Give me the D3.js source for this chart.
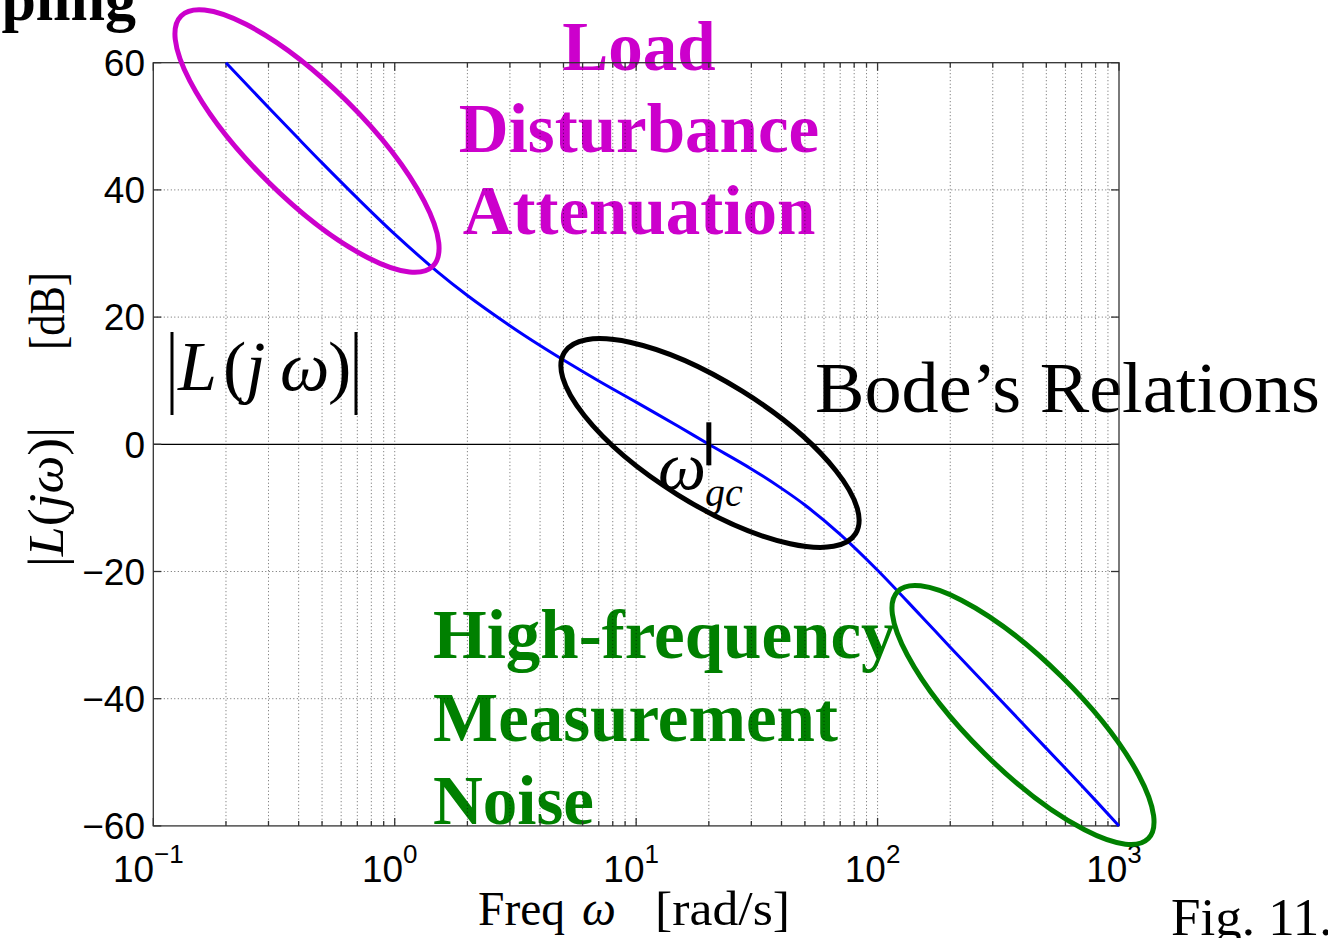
<!DOCTYPE html>
<html>
<head>
<meta charset="utf-8">
<script src="https://cdn.jsdelivr.net/npm/d3@7"></script>
<style>
  html, body { margin: 0; padding: 0; background: #fff; }
  svg { display: block; }
</style>
</head>
<body>
<svg id="chart" width="1328" height="938"></svg>
<script>
// Open-loop gain |L(jω)| in dB, sampled along the frequency axis (rad/s)
const freq  = [0.2, 0.3, 0.4, 0.5, 0.7, 1, 1.5, 2, 3, 4, 5, 7, 10, 15, 20, 30, 40, 50, 70, 100, 150, 200, 300, 500, 700, 1000];
const magDb = [60, 52.96, 48.03, 44.25, 38.7, 33.05, 27.15, 23.4, 18.65, 15.53, 13.25, 9.96, 6.63, 2.8, 0, -3.87, -6.93, -9.55, -14.15, -19.8, -26.84, -31.9, -38.94, -47.81, -53.65, -60];

// Gain crossover frequency
const crossover = [20];

// Axis ticks
const yTicks = [60, 40, 20, 0, -20, -40, -60];
const xTickExps = [-1, 0, 1, 2, 3];

// Annotation text
const loadLines  = ["Load", "Disturbance", "Attenuation"];
const noiseLines = ["High-frequency", "Measurement", "Noise"];
const bodeText   = "Bode\u2019s Relations";

const svg = d3.select("#chart");
const W = 1328, H = 938;
const plot = { left: 153.3, right: 1119, top: 62.7, bottom: 825.9 };

const x = d3.scaleLog().domain([0.1, 1000]).range([plot.left, plot.right]);
const y = d3.scaleLinear().domain([-60, 60]).range([plot.bottom, plot.top]);

const SERIF = "'Liberation Serif', 'Times New Roman', serif";
const SANS  = "'Liberation Sans', Arial, Helvetica, sans-serif";

svg.append("rect").attr("width", W).attr("height", H).attr("fill", "#fff");

// ---------- annotation text (grid is drawn over it) ----------
const ann = svg.append("g");

ann.append("text")
  .attr("x", 136).attr("y", 20)
  .attr("text-anchor", "end")
  .attr("font-family", SERIF).attr("font-weight", "bold").attr("font-size", 62)
  .attr("fill", "#000")
  .text("pling");

ann.selectAll("text.load").data(loadLines).join("text")
  .attr("class", "load")
  .attr("x", 639).attr("y", (d, i) => 70 + i * 82)
  .attr("text-anchor", "middle")
  .attr("font-family", SERIF).attr("font-weight", "bold").attr("font-size", 69)
  .attr("fill", "#cc00cc")
  .text(d => d);

ann.selectAll("text.noise").data(noiseLines).join("text")
  .attr("class", "noise")
  .attr("x", 433).attr("y", (d, i) => 658 + i * 83)
  .attr("text-anchor", "start")
  .attr("font-family", SERIF).attr("font-weight", "bold").attr("font-size", 69)
  .attr("fill", "#008000")
  .text(d => d);

ann.append("text")
  .attr("x", 815).attr("y", 412)
  .attr("font-family", SERIF).attr("font-size", 72)
  .attr("fill", "#000")
  .attr("textLength", 505).attr("lengthAdjust", "spacingAndGlyphs")
  .text(bodeText);

// |L(jω)| label inside the plot
const lj = ann.append("g");
lj.append("line").attr("x1", 172).attr("x2", 172).attr("y1", 332).attr("y2", 415)
  .attr("stroke", "#000").attr("stroke-width", 3);
lj.append("line").attr("x1", 356).attr("x2", 356).attr("y1", 332).attr("y2", 415)
  .attr("stroke", "#000").attr("stroke-width", 3);
const ljText = lj.append("text").attr("y", 390)
  .attr("font-family", SERIF).attr("font-size", 70).attr("fill", "#000");
ljText.append("tspan").attr("x", 178).attr("font-style", "italic").text("L");
ljText.append("tspan").attr("x", 223).text("(");
ljText.append("tspan").attr("x", 246).attr("font-style", "italic").text("j");
ljText.append("tspan").attr("x", 280).attr("font-style", "italic").text("\u03c9");
ljText.append("tspan").attr("x", 328).text(")");

// ω_gc label
ann.append("text").attr("x", 658).attr("y", 489)
  .attr("font-family", SERIF).attr("font-style", "italic").attr("font-size", 68)
  .attr("fill", "#000").text("\u03c9");
ann.append("text").attr("x", 705).attr("y", 506)
  .attr("font-family", SERIF).attr("font-style", "italic").attr("font-size", 40)
  .attr("fill", "#000").text("gc");

ann.append("text")
  .attr("x", 1171).attr("y", 935)
  .attr("font-family", SERIF).attr("font-size", 53)
  .attr("fill", "#000")
  .text("Fig. 11.");

// ---------- grid ----------
const grid = svg.append("g")
  .attr("stroke", "#000").attr("stroke-opacity", 0.6)
  .attr("stroke-width", 1).attr("stroke-dasharray", "1 2.5");

const gridX = [];
for (let e = -1; e < 3; e++) {
  for (let k = 1; k <= 9; k++) {
    const v = k * Math.pow(10, e);
    if (v > 0.1) gridX.push(v);
  }
}

grid.selectAll("line.gx").data(gridX).join("line")
  .attr("class", "gx")
  .attr("x1", d => x(d)).attr("x2", d => x(d))
  .attr("y1", plot.top).attr("y2", plot.bottom);

grid.selectAll("line.gy").data(yTicks.filter(v => v !== 60 && v !== -60 && v !== 0)).join("line")
  .attr("class", "gy")
  .attr("x1", plot.left).attr("x2", plot.right)
  .attr("y1", d => y(d)).attr("y2", d => y(d));

// 0 dB reference line
svg.append("line")
  .attr("x1", plot.left).attr("x2", plot.right)
  .attr("y1", y(0)).attr("y2", y(0))
  .attr("stroke", "#000").attr("stroke-width", 1.2);

// ---------- axes box and ticks ----------
const axisG = svg.append("g").attr("stroke", "#333").attr("stroke-width", 1.3);
axisG.append("rect")
  .attr("x", plot.left).attr("y", plot.top)
  .attr("width", plot.right - plot.left).attr("height", plot.bottom - plot.top)
  .attr("fill", "none");

const majorLen = 8, minorLen = 5;
const xTickVals = [];
for (let e = -1; e <= 3; e++) {
  for (let k = 1; k <= 9; k++) {
    const v = k * Math.pow(10, e);
    if (v >= 0.1 && v <= 1000) xTickVals.push({ v, major: k === 1 });
  }
}
axisG.selectAll("line.tb").data(xTickVals).join("line")
  .attr("class", "tb")
  .attr("x1", d => x(d.v)).attr("x2", d => x(d.v))
  .attr("y1", plot.bottom).attr("y2", d => plot.bottom - (d.major ? majorLen : minorLen));
axisG.selectAll("line.tt").data(xTickVals).join("line")
  .attr("class", "tt")
  .attr("x1", d => x(d.v)).attr("x2", d => x(d.v))
  .attr("y1", plot.top).attr("y2", d => plot.top + (d.major ? majorLen : minorLen));
axisG.selectAll("line.tl").data(yTicks).join("line")
  .attr("class", "tl")
  .attr("x1", plot.left).attr("x2", plot.left + majorLen)
  .attr("y1", d => y(d)).attr("y2", d => y(d));
axisG.selectAll("line.tr").data(yTicks).join("line")
  .attr("class", "tr")
  .attr("x1", plot.right).attr("x2", plot.right - majorLen)
  .attr("y1", d => y(d)).attr("y2", d => y(d));

// y tick labels
svg.append("g").selectAll("text").data(yTicks).join("text")
  .attr("x", 145).attr("y", d => y(d))
  .attr("dy", "0.36em")
  .attr("text-anchor", "end")
  .attr("font-family", SANS).attr("font-size", 37)
  .attr("fill", "#000")
  .text(d => d < 0 ? "\u2212" + Math.abs(d) : String(d));

// x tick labels: 10^n
const xLab = svg.append("g").selectAll("text").data(xTickExps).join("text")
  .attr("x", d => x(Math.pow(10, d)) - 5).attr("y", 882)
  .attr("text-anchor", "middle")
  .attr("font-family", SANS).attr("font-size", 37)
  .attr("fill", "#000");
xLab.append("tspan").text("10");
xLab.append("tspan").attr("dy", -19).attr("font-size", 26)
  .text(d => d < 0 ? "\u2212" + Math.abs(d) : String(d));

// axis titles
const xt = svg.append("g")
  .attr("font-family", SERIF).attr("font-size", 48).attr("fill", "#000");
xt.append("text").attr("x", 478).attr("y", 925)
  .attr("textLength", 87).attr("lengthAdjust", "spacingAndGlyphs").text("Freq");
xt.append("text").attr("x", 582).attr("y", 925).attr("font-style", "italic").text("\u03c9");
xt.append("text").attr("x", 655).attr("y", 925)
  .attr("textLength", 135).attr("lengthAdjust", "spacingAndGlyphs").text("[rad/s]");

const yt1 = svg.append("text")
  .attr("transform", "translate(63,497) rotate(-90)")
  .attr("text-anchor", "middle")
  .attr("font-family", SERIF).attr("font-size", 50).attr("fill", "#000")
  .attr("textLength", 140).attr("lengthAdjust", "spacingAndGlyphs");
yt1.append("tspan").text("|");
yt1.append("tspan").attr("font-style", "italic").text("L");
yt1.append("tspan").text("(");
yt1.append("tspan").attr("font-style", "italic").text("j\u03c9");
yt1.append("tspan").text(")|");

svg.append("text")
  .attr("transform", "translate(64,311) rotate(-90)")
  .attr("text-anchor", "middle")
  .attr("font-family", SERIF).attr("font-size", 50).attr("fill", "#000")
  .attr("textLength", 78).attr("lengthAdjust", "spacingAndGlyphs")
  .text("[dB]");

// ---------- gain curve ----------
const pts = freq.map((f, i) => [f, magDb[i]]);
svg.append("path")
  .datum(pts)
  .attr("fill", "none")
  .attr("stroke", "#0000ff")
  .attr("stroke-width", 3)
  .attr("stroke-linejoin", "round")
  .attr("d", d3.line().x(d => x(d[0])).y(d => y(d[1])).curve(d3.curveCatmullRom.alpha(0.5)));

// ---------- highlighted regions ----------
const regions = [
  { cx: 307, cy: 141, rx: 177.5, ry: 56.4, rot: 44.8, color: "#cc00cc" },
  { cx: 710, cy: 443, rx: 171.5, ry: 61,   rot: 31.9, color: "#000000" },
  { cx: 1023, cy: 715, rx: 176, ry: 54.5, rot: 44.6, color: "#008000" }
];
svg.append("g").selectAll("ellipse").data(regions).join("ellipse")
  .attr("cx", d => d.cx).attr("cy", d => d.cy)
  .attr("rx", d => d.rx).attr("ry", d => d.ry)
  .attr("transform", d => `rotate(${d.rot},${d.cx},${d.cy})`)
  .attr("fill", "none")
  .attr("stroke", d => d.color)
  .attr("stroke-width", 5);

// crossover marker
svg.selectAll("line.wgc").data(crossover).join("line")
  .attr("class", "wgc")
  .attr("x1", d => x(d)).attr("x2", d => x(d))
  .attr("y1", y(0) - 22).attr("y2", y(0) + 21)
  .attr("stroke", "#000").attr("stroke-width", 5);
</script>
</body>
</html>
